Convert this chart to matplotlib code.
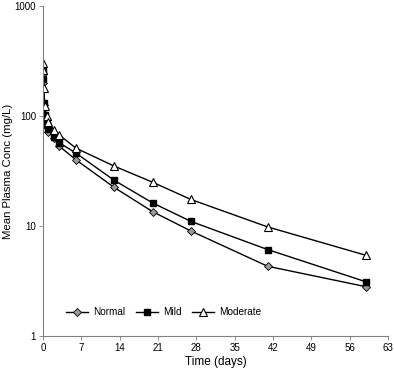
import matplotlib
matplotlib.use("Agg")
import matplotlib.pyplot as plt
from matplotlib.ticker import FixedLocator, NullLocator

plt.rcParams['font.family'] = ['Liberation Sans', 'DejaVu Sans']

time_days = [0, 0.08, 0.17, 0.33, 0.67, 1, 2, 3, 6, 13, 20, 27, 41, 59]
normal = [240, 200, 125, 95, 80, 72, 63, 53, 40, 22.4, 13.5, 9.0, 4.3, 2.8]
mild = [260, 215, 132, 102, 84, 76, 64, 57, 46, 26, 16.2, 11.0, 6.1, 3.1]
moderate = [300, 260, 180, 122, 100, 88, 74, 67, 51, 35, 25, 17.4, 9.8, 5.4]
x_ticks = [0, 7, 14, 21, 28, 35, 42, 49, 56, 63]
y_ticks = [1, 10, 100, 1000]
y_ticklabels = ['1', '10', '100', '1000']

fig = plt.figure(figsize=(3.94, 3.72), dpi=100)
ax = fig.add_axes([0.109, 0.097, 0.876, 0.887])

ax.plot(time_days, normal, color='black', lw=1.0, marker='D', ms=4.2,
        mfc='#9a9a9a', mec='black', mew=0.6, label='Normal')
ax.plot(time_days, mild, color='black', lw=1.0, marker='s', ms=5.0,
        mfc='black', mec='black', label='Mild')
ax.plot(time_days, moderate, color='black', lw=1.0, marker='^', ms=5.8,
        mfc='white', mec='black', mew=0.8, label='Moderate')

ax.set_yscale('log')
ax.set_ylim(1, 1000)
ax.set_xlim(0, 63)
ax.xaxis.set_major_locator(FixedLocator(x_ticks))
ax.yaxis.set_major_locator(FixedLocator(y_ticks))
ax.yaxis.set_minor_locator(NullLocator())
ax.set_yticklabels(y_ticklabels)

for s in ['top', 'right']:
    ax.spines[s].set_visible(False)
for s in ['left', 'bottom']:
    ax.spines[s].set_color('#808080')
    ax.spines[s].set_linewidth(0.8)
ax.tick_params(axis='both', direction='out', length=3, width=0.6,
               color='#808080', labelsize=7, pad=2)

ax.set_xlabel('Time (days)', fontsize=8.5, labelpad=2)
ax.set_ylabel('Mean Plasma Conc (mg/L)', fontsize=8.2)
ax.yaxis.set_label_coords(-0.088, 0.5)

ax.legend(loc='lower left', bbox_to_anchor=(0.04, 0.03), ncol=3, frameon=False,
          fontsize=7.2, handlelength=2.2, columnspacing=1.1, handletextpad=0.5)

fig.savefig('out.png', dpi=100)
